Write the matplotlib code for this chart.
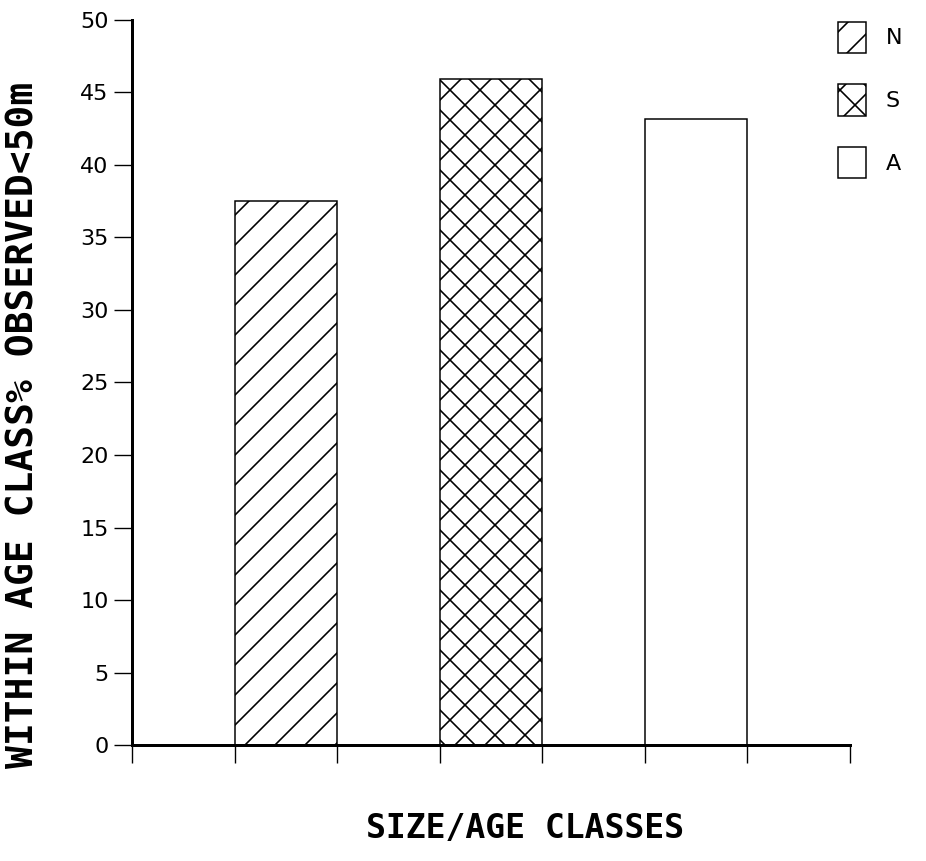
import matplotlib
matplotlib.use("Agg")
import matplotlib.pyplot as plt
from matplotlib.patches import Patch

classes = ["N", "S", "A"]
percent_within_50m = [37.5, 45.9, 43.2]
hatches = ["//", "xx", ""]
bar_centers = [1.5, 3.5, 5.5]
y_ticks = [0, 5, 10, 15, 20, 25, 30, 35, 40, 45, 50]
x_ticks = [0, 1, 2, 3, 4, 5, 6, 7]

DPI = 180
plt.rcParams["hatch.linewidth"] = 0.65
plt.rcParams["hatch.color"] = "black"

fig = plt.figure(figsize=(926 / DPI, 861 / DPI), dpi=DPI)
ax = fig.add_axes([0.1425, 0.1347, 0.7755, 0.8421])

bars = ax.bar(bar_centers, percent_within_50m, width=1.0, color="white",
              edgecolor="black", linewidth=0.6)
for bar, h in zip(bars, hatches):
    bar.set_hatch(h)

ax.set_xlim(0, 7)
ax.set_ylim(0, 50)
ax.set_xticks(x_ticks)
ax.set_xticklabels([])
ax.set_yticks(y_ticks)
ax.set_yticklabels([str(t) for t in y_ticks], fontsize=8.9, family="DejaVu Sans")

for side in ["top", "right"]:
    ax.spines[side].set_visible(False)
ax.spines["left"].set_linewidth(1.2)
ax.spines["bottom"].set_linewidth(1.2)
ax.tick_params(axis="y", direction="out", length=7.2, width=0.55, pad=2.2)
ax.tick_params(axis="x", direction="out", length=7.2, width=0.55)

fig.text(0.025, 0.507, "WITHIN AGE CLASS% OBSERVED<50m", rotation=90,
         ha="center", va="center", fontsize=15.2, fontweight="bold",
         family="DejaVu Sans Mono")
fig.text(0.567, 0.038, "SIZE/AGE CLASSES", ha="center", va="center",
         fontsize=13.2, fontweight="bold", family="DejaVu Sans Mono")

handles = [Patch(facecolor="white", edgecolor="black", linewidth=0.6, hatch=h)
           for h in hatches]
fig.legend(handles, classes, loc="upper left", bbox_to_anchor=(0.905, 0.975),
           frameon=False, fontsize=8.9, handlelength=1.25, handleheight=1.8,
           labelspacing=1.4, handletextpad=0.9, borderpad=0, borderaxespad=0)

fig.savefig("out.png", dpi=DPI)
